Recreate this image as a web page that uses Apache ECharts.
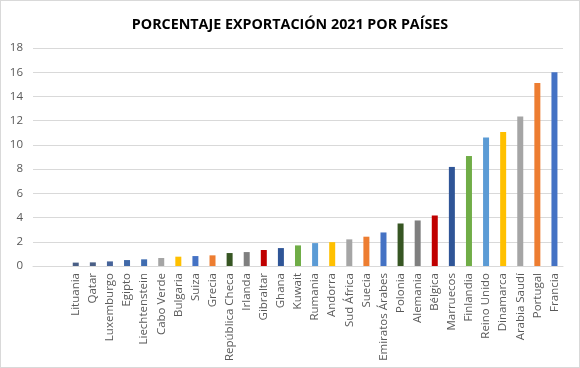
<!DOCTYPE html>
<html>
<head>
<meta charset="utf-8">
<script src="https://cdn.jsdelivr.net/npm/echarts@6/dist/echarts.min.js"></script>
<style>
html,body{margin:0;padding:0;background:#fff;}
#c{width:580px;height:368px;box-sizing:border-box;border:1px solid #d9d9d9;}
</style>
</head>
<body>
<div id="c"></div>
<script>
const categories = ['', '', 'Lituania', 'Qatar', 'Luxemburgo', 'Egipto', 'Liechtenstein', 'Cabo Verde', 'Bulgaria', 'Suiza', 'Grecia', 'República Checa', 'Irlanda', 'Gibraltar', 'Ghana', 'Kuwait', 'Rumania', 'Andorra', 'Sud África', 'Suecia', 'Emiratos Árabes', 'Polonia', 'Alemania', 'Bélgica', 'Marruecos', 'Finlandia', 'Reino Unido', 'Dinamarca', 'Arabia Saudí', 'Portugal', 'Francia'];
const values = [null, null, 0.28, 0.30, 0.38, 0.49, 0.55, 0.66, 0.77, 0.82, 0.88, 1.07, 1.15, 1.32, 1.48, 1.70, 1.89, 1.97, 2.20, 2.42, 2.77, 3.51, 3.76, 4.17, 8.18, 9.08, 10.62, 11.06, 12.35, 15.12, 16.00];
const barColors = ['#4472c4', '#4472c4', '#4a5f86', '#4a5f86', '#47649a', '#4169a8', '#3f6cb0', '#a5a5a5', '#ffc000', '#4472c4', '#ed7d31', '#375623', '#7f7f7f', '#c00000', '#2f5597', '#70ad47', '#5b9bd5', '#ffc000', '#a5a5a5', '#ed7d31', '#4472c4', '#375623', '#7f7f7f', '#c00000', '#2f5597', '#70ad47', '#5b9bd5', '#ffc000', '#a5a5a5', '#ed7d31', '#4472c4'];
const yTicks = [0, 2, 4, 6, 8, 10, 12, 14, 16, 18];
const titleText = 'PORCENTAJE EXPORTACIÓN 2021 POR PAÍSES';

const chart = echarts.init(document.getElementById('c'), null, {renderer: 'canvas'});
chart.setOption({
  animation: false,
  title: {
    text: titleText,
    left: 'center',
    top: 12,
    textStyle: {fontFamily: 'Open Sans', fontWeight: 'bold', fontSize: 14.3, color: '#000'}
  },
  grid: {left: 32, right: 16, top: 47, bottom: 101, containLabel: false},
  xAxis: {
    type: 'category',
    data: categories,
    axisLine: {show: true, lineStyle: {color: '#d9d9d9'}},
    axisTick: {show: false},
    axisLabel: {interval: 0, rotate: 90, margin: 7, fontFamily: 'Open Sans', fontSize: 11.5, color: '#595959'}
  },
  yAxis: {
    type: 'value',
    min: yTicks[0],
    max: yTicks[yTicks.length - 1],
    interval: 2,
    axisLine: {show: false},
    axisTick: {show: false},
    splitLine: {lineStyle: {color: '#d9d9d9'}},
    axisLabel: {margin: 10, fontFamily: 'Open Sans', fontSize: 11.5, color: '#595959'}
  },
  series: [{
    type: 'bar',
    barWidth: 6,
    data: values.map((v, i) => ({value: v, itemStyle: {color: barColors[i]}}))
  }]
});
</script>
</body>
</html>
